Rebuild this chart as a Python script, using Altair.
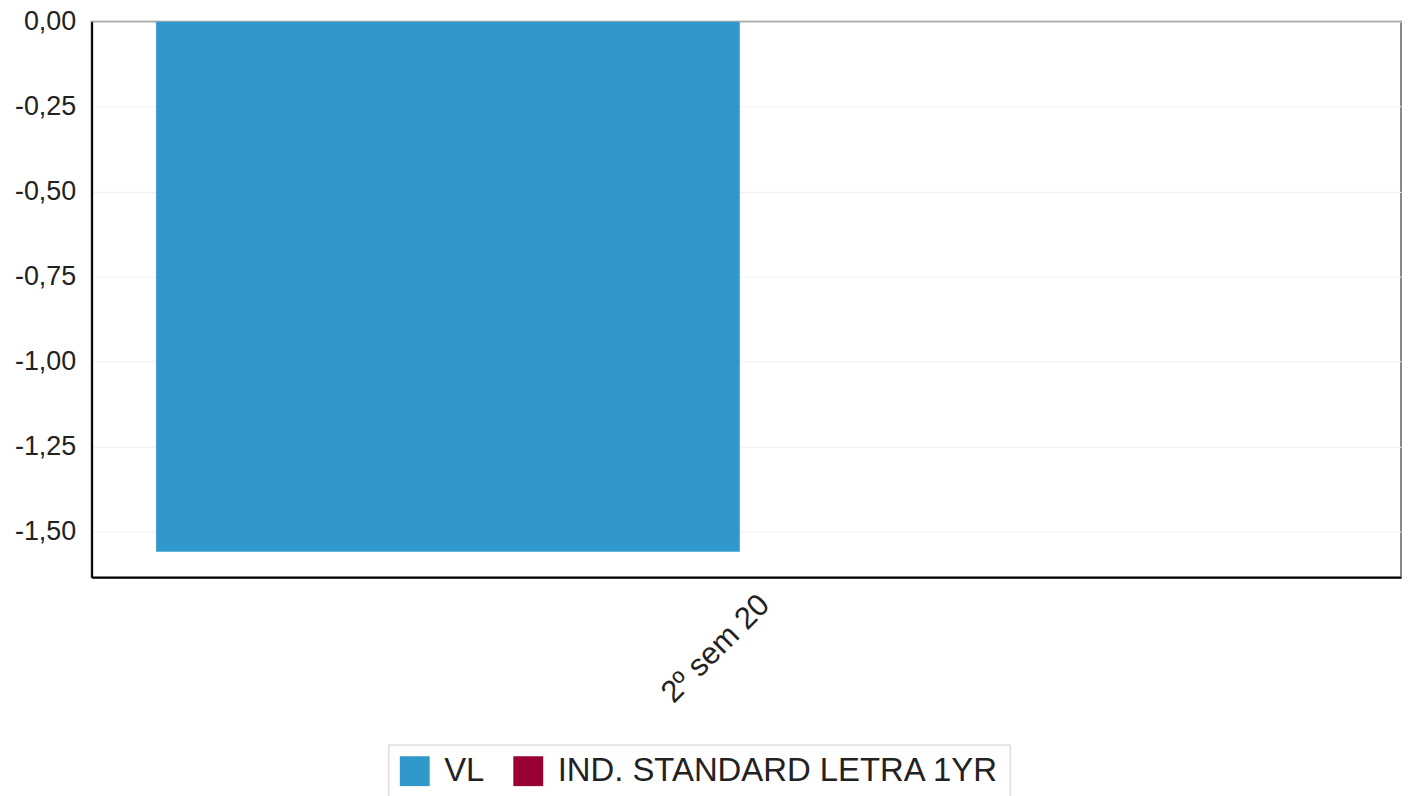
import altair as alt
import pandas as pd

categories = ["2º sem 20"]
series = ["VL", "IND. STANDARD LETRA 1YR"]
vl_values = [-1.56]
ind_values = [0.0]
colors = ["#3198cb", "#990033"]
y_ticks = [0, -0.25, -0.5, -0.75, -1.0, -1.25, -1.5]

rows = []
for i, c in enumerate(categories):
    rows.append({"periodo": c, "serie": series[0], "valor": vl_values[i]})
    rows.append({"periodo": c, "serie": series[1], "valor": ind_values[i]})
df = pd.DataFrame(rows)

FONT = "Liberation Sans"

chart = alt.Chart(df).mark_bar().encode(
    x=alt.X("periodo:N", sort=categories, title=None,
            scale=alt.Scale(paddingInner=0, paddingOuter=0.0546),
            axis=alt.Axis(labelAngle=-45, ticks=False, labelFontSize=31, labelFont=FONT,
                          labelColor="#222", domainColor="#000", domainWidth=2,
                          labelPadding=12, labelOffset=8, grid=False)),
    xOffset=alt.XOffset("serie:N", sort=series,
                        scale=alt.Scale(paddingInner=0.022, paddingOuter=0)),
    y=alt.Y("valor:Q", title=None,
            scale=alt.Scale(domain=[-1.635, 0], nice=False, zero=False),
            axis=alt.Axis(values=y_ticks, ticks=False, labelFontSize=27, labelFont=FONT,
                          labelColor="#222", domainColor="#000", domainWidth=2,
                          labelPadding=16, gridColor="#f0f0f0", gridWidth=1,
                          labelExpr="(datum.value < 0 ? '-' : '') + replace(format(abs(datum.value), '.2f'), '.', ',')")),
    color=alt.Color("serie:N", sort=series,
                    scale=alt.Scale(domain=series, range=colors),
                    legend=alt.Legend(title=None, orient="none", legendX=298, legendY=726,
                                      direction="horizontal", symbolType="square",
                                      symbolSize=900, symbolStrokeWidth=0,
                                      labelFontSize=33, labelFont=FONT, labelColor="#222",
                                      labelLimit=0, labelOffset=13, columnPadding=27,
                                      padding=10,
                                      strokeColor="#cccccc", fillColor="#ffffff")),
).properties(
    width=1315, height=558,
    autosize=alt.AutoSizeParams(type="none"),
    padding={"left": 84, "top": 12, "right": 4, "bottom": 230},
).configure_view(
    stroke="#888888", strokeWidth=2
)

chart.save("out.html", embed_options={"renderer": "svg", "actions": False})
